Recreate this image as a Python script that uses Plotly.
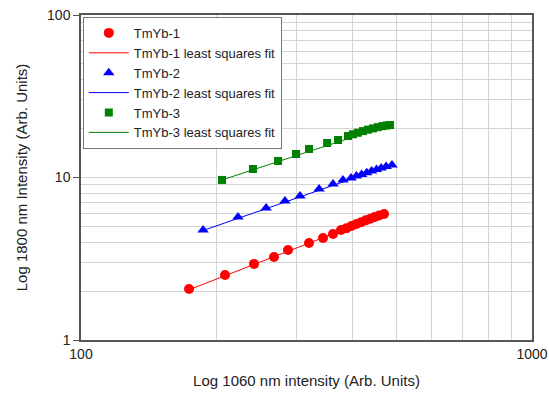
import plotly.graph_objects as go

# TmYb-1
x1 = [173.6, 208.6, 241.9, 267.9, 287.7, 320.3, 344.1, 362.1, 377.2, 388, 398, 408, 418, 428, 438, 448, 458, 469.8]
y1 = [2.06, 2.51, 2.94, 3.24, 3.58, 3.95, 4.24, 4.49, 4.75, 4.88, 5.03, 5.17, 5.31, 5.45, 5.58, 5.71, 5.84, 5.96]
# TmYb-2
x2 = [186.5, 222.9, 257.3, 283.3, 305.9, 337.2, 362.1, 380.9, 397, 408, 419, 430, 441, 452, 463, 475, 489.3]
y2 = [4.75, 5.71, 6.49, 7.17, 7.70, 8.50, 9.12, 9.65, 9.93, 10.2, 10.45, 10.7, 10.95, 11.2, 11.45, 11.7, 11.94]
# TmYb-3
x3 = [205.4, 240.6, 273.5, 299.8, 320.3, 351.3, 371.5, 390.9, 401, 411, 422, 433, 444, 455, 466, 476, 484.3]
y3 = [9.66, 11.28, 12.64, 13.95, 14.97, 16.31, 17.01, 18.0, 18.45, 18.85, 19.3, 19.7, 20.05, 20.4, 20.7, 20.9, 21.04]

# least squares fit end points
fit1_x = [173.6, 469.8]
fit1_y = [2.04, 5.96]
fit2_x = [186.5, 489.3]
fit2_y = [4.72, 11.94]
fit3_x = [205.4, 484.3]
fit3_y = [9.66, 21.04]

fig = go.Figure()

series = [
    ("TmYb-1", x1, y1, fit1_x, fit1_y, "#ff0000", "circle", 10),
    ("TmYb-2", x2, y2, fit2_x, fit2_y, "#0000ff", "triangle-up", 10),
    ("TmYb-3", x3, y3, fit3_x, fit3_y, "#008000", "square", 8),
]

for name, xs, ys, fx, fy, col, sym, sz in series:
    fig.add_trace(go.Scatter(
        x=xs, y=ys, mode="markers", name=name,
        marker=dict(color=col, symbol=sym, size=sz),
    ))
    fig.add_trace(go.Scatter(
        x=fx, y=fy, mode="lines", name=name + " least squares fit",
        line=dict(color=col, width=1),
    ))

axis_common = dict(
    type="log",
    automargin=False,
    showline=True, linecolor="#555555", linewidth=1.5, mirror=True,
    showgrid=True, gridcolor="#d4d4d4", gridwidth=1,
    zeroline=False,
    tickfont=dict(family="Liberation Sans, Arial", size=14, color="#222222"),
    minor=dict(showgrid=True, gridcolor="#d4d4d4", ticks="", dtick="D1"),
)

fig.update_layout(
    width=549, height=398,
    margin=dict(l=81, r=17, t=15, b=58),
    paper_bgcolor="white", plot_bgcolor="white",
    font=dict(family="Liberation Sans, Arial", size=14, color="#222222"),
    xaxis=dict(
        axis_common,
        range=[2, 3],
        tickvals=[100, 1000], ticktext=["100", "1000"],
        ticks="",
        title=dict(text="Log 1060 nm intensity (Arb. Units)", font=dict(size=15)),
    ),
    yaxis=dict(
        axis_common,
        range=[0, 2],
        tickvals=[1, 10, 100], ticktext=["1", "10", "100"],
        ticks="outside", ticklen=6, tickcolor="#555555",
        title=dict(text="Log 1800 nm Intensity (Arb. Units)", font=dict(size=15), standoff=16),
    ),
    legend=dict(
        x=0.004, y=0.994, xanchor="left", yanchor="top",
        bgcolor="white", bordercolor="#777777", borderwidth=1,
        font=dict(size=13, color="#222222"),
        itemwidth=40, tracegroupgap=0,
    ),
    showlegend=True,
)

# drop the default 8px body margin so the figure fills the window exactly
fig.write_html("out.html", config={"displayModeBar": False},
               post_script="document.body.style.margin='0';")
